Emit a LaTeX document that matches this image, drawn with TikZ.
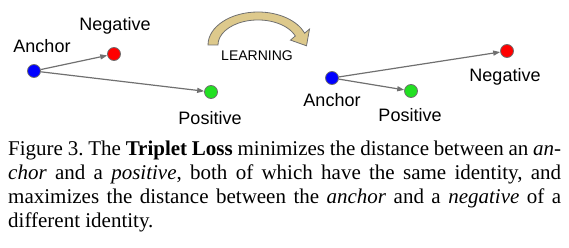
\documentclass[tikz,border=0pt]{standalone}
\usepackage{fontspec}
\setmainfont{Liberation Serif}
\setsansfont{Liberation Sans}
\usetikzlibrary{arrows.meta,positioning}
\definecolor{tripletBlue}{HTML}{0000FF}
\definecolor{tripletRed}{HTML}{FF0000}
\definecolor{tripletGreen}{HTML}{22E022}
\definecolor{tripletGray}{HTML}{707070}
\definecolor{tripletTan}{HTML}{DDC98C}

\begin{document}
\begin{tikzpicture}[x=1pt,y=-1pt,
    dotnode/.style={circle, draw=tripletGray, line width=0.8pt, minimum size=13pt, inner sep=0pt},
    lbl/.style={font=\sffamily\fontsize{18}{20}\selectfont, anchor=base, inner sep=0pt},
    link/.style={draw=tripletGray, line width=1.2pt, -{Triangle[length=7pt,width=5pt]}}]
  \useasboundingbox (0,0) rectangle (569,248);
  % before learning
  \node[dotnode, fill=tripletBlue] (ancA) at (34,71) {};
  \node[dotnode, fill=tripletRed] (negA) at (114,54) {};
  \node[dotnode, fill=tripletGreen] (posA) at (211,92) {};
  \node[lbl] (ancAlbl) at (42,53) {Anchor};
  \node[lbl] (negAlbl) at (115,31) {Negative};
  \node[lbl] (posAlbl) at (210,125) {Positive};
  \draw[link] (ancA) -- (negA);
  \draw[link] (ancA) -- (posA);
  % learning arrow
  \filldraw[fill=tripletTan, draw=tripletGray, line width=0.8pt]
    (208,45) arc[start angle=180, end angle=339, x radius=50, y radius=33]
    -- (309.5,29.1) -- (306.5,45.8) -- (290.5,40.1)
    -- (295.3,36.0) arc[start angle=339, end angle=180, x radius=40, y radius=25] -- cycle;
  \node[font=\sffamily\fontsize{14}{16}\selectfont, anchor=base, inner sep=0pt] (learn) at (257,61) {LEARNING};
  % after learning
  \node[dotnode, fill=tripletBlue] (ancB) at (332,78) {};
  \node[dotnode, fill=tripletRed] (negB) at (507,51) {};
  \node[dotnode, fill=tripletGreen] (posB) at (411,91) {};
  \node[lbl] (ancBlbl) at (332,107) {Anchor};
  \node[lbl] (negBlbl) at (505,82) {Negative};
  \node[lbl] (posBlbl) at (410,122) {Positive};
  \draw[link] (ancB) -- (negB);
  \draw[link] (ancB) -- (posB);
  % caption
  \node[anchor=north west, inner sep=0pt, text width=553pt, align=justify,
    font=\fontsize{21}{24}\selectfont\frenchspacing] (caption) at (8,141)
    {Figure 3. The \textbf{Triplet Loss} minimizes the distance between an \emph{an-}\linebreak
    \emph{chor} and a \emph{positive}, both of which have the same identity, and\linebreak
    maximizes the distance between the \emph{anchor} and a \emph{negative} of a\linebreak
    different identity.};
\end{tikzpicture}
\end{document}
